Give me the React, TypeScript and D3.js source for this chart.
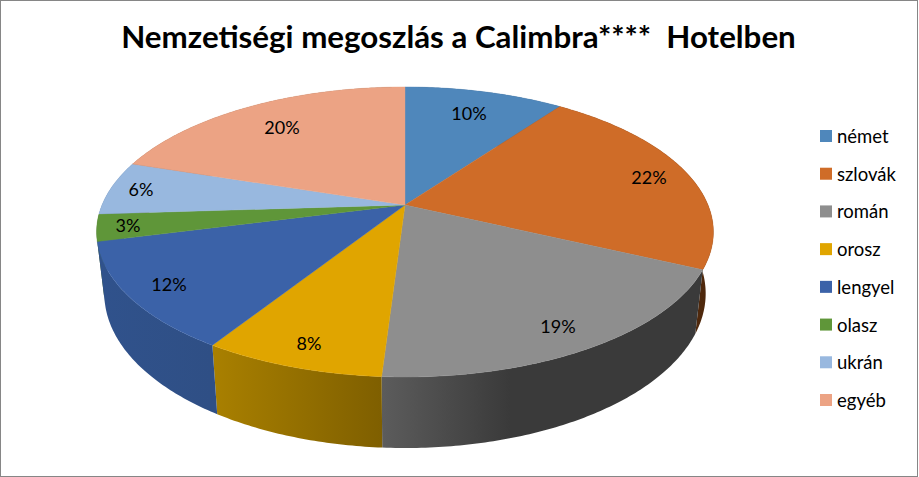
import React from 'react';
import * as d3 from 'd3';

const title = 'Nemzetiségi megoszlás a Calimbra****  Hotelben';
const categories = ['német', 'szlovák', 'román', 'orosz', 'lengyel', 'olasz', 'ukrán', 'egyéb'];
const shares = [10, 22, 19, 8, 12, 3, 6, 20];

const topColors = ['#4f87bb', '#cf6c28', '#8e8e8e', '#e0a500', '#3b62a8', '#5f9639', '#98b8df', '#eca384'];
// side wall colours, left end -> right end as seen on screen
const sideColors = [
  ['#2f5678', '#2f5678'],
  ['#5a2e10', '#4e280c'],
  ['#5c5c5c', '#3a3a3a'],
  ['#a98000', '#7f5f00'],
  ['#30528c', '#2f4f85'],
  ['#3a5c22', '#3a5c22'],
  ['#5f7a9c', '#5f7a9c'],
  ['#94644e', '#94644e'],
];
// back slices first so the left wall ends up blue, not green
const wallOrder = [7, 6, 5, 0, 1, 2, 3, 4];
// label centres, Excel places these by hand so they don't follow the mid angle
const labelX = [469, 649, 558, 309, 169, 128, 141, 282];
const labelY = [113, 177, 326, 343, 284, 225, 189, 127];

const width = 919;
const height = 477;

// perspective projection of the pie disc
const cx = 405;
const cy = 205;
const rx = 303;
const ry = 140;
const tilt = 0.186;

const project = (angle: number): [number, number] => {
  const u = Math.sin(angle);
  const v = -Math.cos(angle);
  const w = 1 - tilt * v;
  return [cx + (rx * u) / w, cy + (ry * v) / w];
};

const projectBottom = (angle: number): [number, number] => {
  const [x, y] = project(angle);
  return [cx + (x - cx) * 0.975, y + 64 + 0.065 * (y - 269)];
};

const pie = d3.pie<number>().sort(null).value((d) => d);
const slices = pie(shares);
const line = d3.line();
const step = 0.012;

const sample = (a0: number, a1: number) => {
  const n = Math.max(2, Math.ceil((a1 - a0) / step));
  return d3.range(n + 1).map((i) => a0 + ((a1 - a0) * i) / n);
};

export default function App() {
  const legendY = d3.scalePoint<string>().domain(categories).range([136, 400]);

  return (
    <svg
      width={width}
      height={height}
      style={{ position: 'absolute', left: 0, top: 0, background: '#fff' }}
      fontFamily="Lato, Carlito, sans-serif"
    >
      <defs>
        {slices.map((s, i) => {
          const xs = sample(s.startAngle, s.endAngle).map((a) => project(a)[0]);
          const [x0, x1] = i === 2 ? [382, 510] : (d3.extent(xs) as [number, number]);
          return (
            <linearGradient key={i} id={`wall${i}`} gradientUnits="userSpaceOnUse" x1={x0} x2={x1} y1={0} y2={0}>
              <stop offset="0" stopColor={sideColors[i][0]} />
              <stop offset="1" stopColor={sideColors[i][1]} />
            </linearGradient>
          );
        })}
      </defs>

      <rect x={0.5} y={0.5} width={width - 2} height={height - 1} fill="#fff" stroke="#868686" />

      <text
        x={458.5}
        y={48}
        textAnchor="middle"
        fontSize={31.3}
        fontWeight={700}
        fill="#000"
        style={{ whiteSpace: 'pre' }}
      >
        {title}
      </text>

      {/* side walls: top rim out and bottom rim back, nonzero fill covers the silhouette */}
      {wallOrder.map((i) => {
        const s = slices[i];
        const angles = sample(s.startAngle, s.endAngle);
        const outline = [...angles.map(project), ...angles.slice().reverse().map(projectBottom)];
        return <path key={categories[i]} d={line(outline) + 'Z'} fill={`url(#wall${i})`} />;
      })}

      {/* top face */}
      {slices.map((s, i) => {
        const rim = sample(s.startAngle, s.endAngle).map(project);
        return (
          <path
            key={categories[i]}
            d={line([[cx, cy], ...rim]) + 'Z'}
            fill={topColors[i]}
            stroke={topColors[i]}
            strokeWidth={0.4}
          />
        );
      })}

      {shares.map((d, i) => (
        <text
          key={categories[i]}
          x={labelX[i]}
          y={labelY[i]}
          textAnchor="middle"
          dominantBaseline="central"
          fontSize={18}
          fill="#000"
        >
          {d}%
        </text>
      ))}

      {categories.map((c, i) => (
        <g key={c} transform={`translate(820,${legendY(c)})`}>
          <rect x={0} y={-6} width={12} height={12} fill={topColors[i]} />
          <text x={17} y={0} dominantBaseline="central" fontSize={18.5} fill="#000">
            {c}
          </text>
        </g>
      ))}
    </svg>
  );
}
